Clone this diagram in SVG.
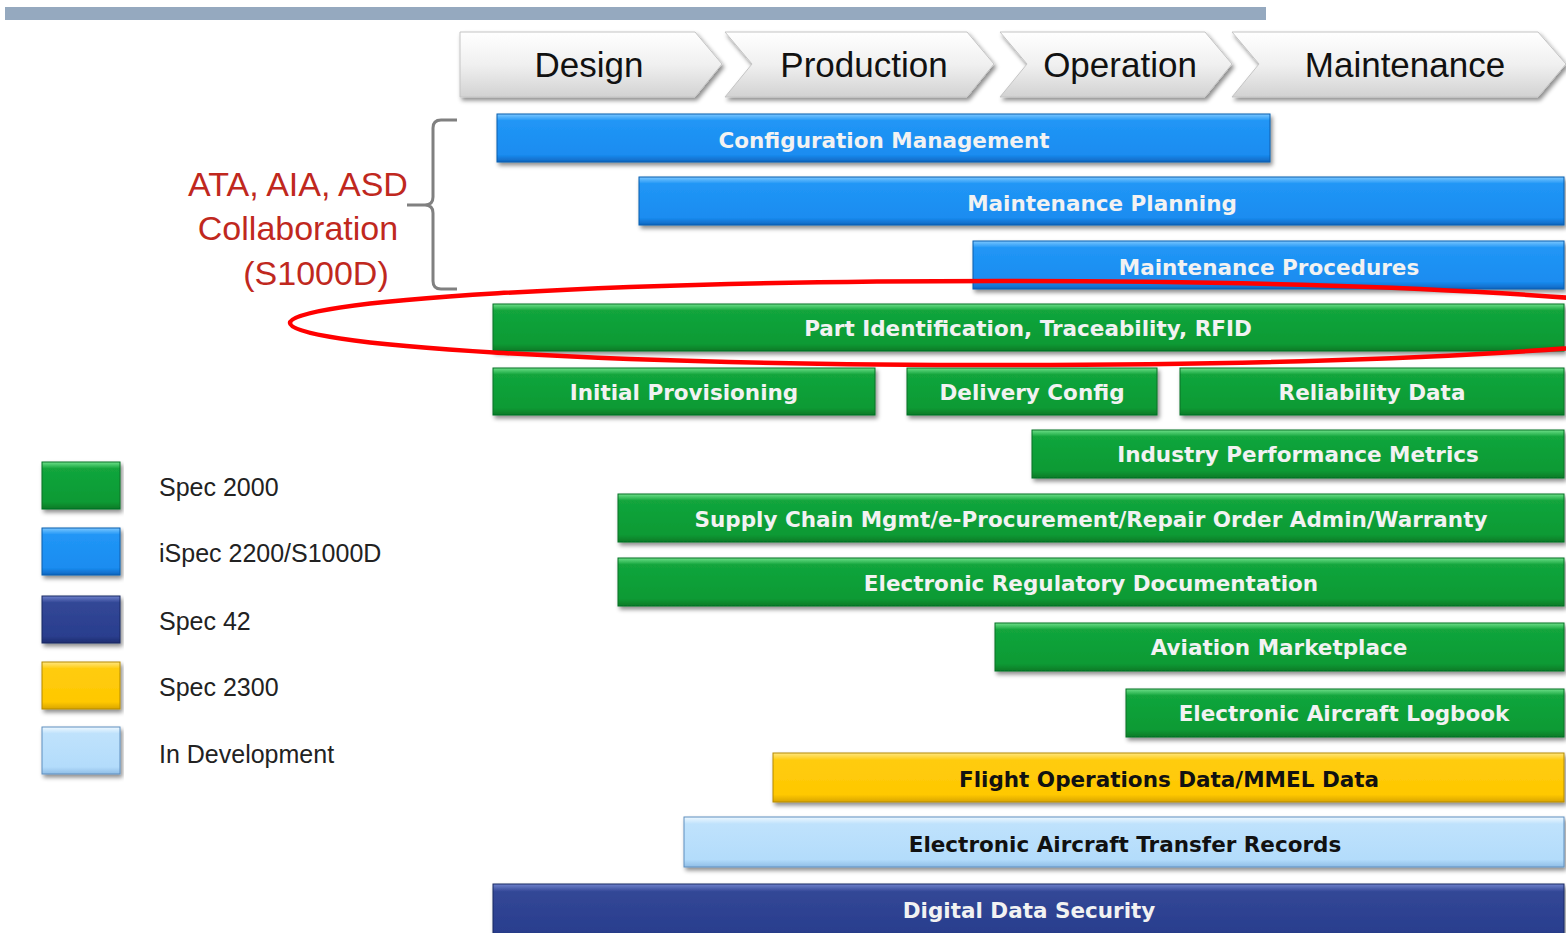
<svg xmlns="http://www.w3.org/2000/svg" width="1566" height="933" viewBox="0 0 1566 933">
<defs>
<filter id="sh" x="-5%" y="-20%" width="110%" height="160%">
<feDropShadow dx="2" dy="3" stdDeviation="2" flood-color="#000" flood-opacity="0.45"/>
</filter>
<linearGradient id="gGreen" x1="0" y1="0" x2="0" y2="1">
<stop offset="0" stop-color="#6fe08a"/><stop offset="0.14" stop-color="#12a53c"/><stop offset="0.85" stop-color="#0a9a34"/><stop offset="1" stop-color="#077a27"/>
</linearGradient>
<linearGradient id="gBlue" x1="0" y1="0" x2="0" y2="1">
<stop offset="0" stop-color="#7cc8ff"/><stop offset="0.14" stop-color="#2196f6"/><stop offset="0.85" stop-color="#1a8cf0"/><stop offset="1" stop-color="#0e66c0"/>
</linearGradient>
<linearGradient id="gDark" x1="0" y1="0" x2="0" y2="1">
<stop offset="0" stop-color="#6f82cc"/><stop offset="0.14" stop-color="#324796"/><stop offset="0.85" stop-color="#2a3e8e"/><stop offset="1" stop-color="#1e2e70"/>
</linearGradient>
<linearGradient id="gYellow" x1="0" y1="0" x2="0" y2="1">
<stop offset="0" stop-color="#ffe680"/><stop offset="0.14" stop-color="#ffcc10"/><stop offset="0.85" stop-color="#ffc800"/><stop offset="1" stop-color="#d9a500"/>
</linearGradient>
<linearGradient id="gLight" x1="0" y1="0" x2="0" y2="1">
<stop offset="0" stop-color="#eef8ff"/><stop offset="0.14" stop-color="#bfe2fc"/><stop offset="0.85" stop-color="#b3dcfb"/><stop offset="1" stop-color="#8fbde6"/>
</linearGradient>
<linearGradient id="gChev" x1="0" y1="0" x2="0" y2="1">
<stop offset="0" stop-color="#ffffff"/><stop offset="0.5" stop-color="#f0f0f0"/><stop offset="1" stop-color="#d2d2d2"/>
</linearGradient>
<style>
.green{fill:url(#gGreen);stroke:#067026;stroke-width:1;filter:url(#sh)}
.blue{fill:url(#gBlue);stroke:#0b5cae;stroke-width:1;filter:url(#sh)}
.dark{fill:url(#gDark);stroke:#1a2862;stroke-width:1;filter:url(#sh)}
.yellow{fill:url(#gYellow);stroke:#b58a00;stroke-width:1;filter:url(#sh)}
.light{fill:url(#gLight);stroke:#5f8fbf;stroke-width:1;filter:url(#sh)}
.chev{fill:url(#gChev);stroke:#c4c4c4;stroke-width:1;filter:url(#sh)}
.bt{font-family:"DejaVu Sans",Verdana,sans-serif;font-weight:bold;font-size:21.5px;fill:#f2f2f2;text-anchor:middle}
.bk{fill:#111}
.ct{font-family:"Liberation Sans",Arial,sans-serif;font-size:35px;fill:#111;text-anchor:middle}
.lt{font-family:"Liberation Sans",Arial,sans-serif;font-size:25px;fill:#222}
.rt{font-family:"Liberation Sans",Arial,sans-serif;font-size:34px;fill:#c0281e;text-anchor:middle}
</style>
</defs>
<rect x="5" y="7" width="1261" height="13" fill="#95a9bf"/>

<g id="phase-design"><polygon class="chev" points="460,32 695,32 722,64 695,97 460,97"/><text class="ct" x="589" y="77">Design</text></g>
<g id="phase-production"><polygon class="chev" points="725,32 967,32 994,64 967,97 725,97 752,64"/><text class="ct" x="864" y="77">Production</text></g>
<g id="phase-operation"><polygon class="chev" points="1000,32 1205,32 1232,64 1205,97 1000,97 1027,64"/><text class="ct" x="1120" y="77">Operation</text></g>
<g id="phase-maintenance"><polygon class="chev" points="1232,32 1538,32 1566,64 1538,97 1232,97 1259,64"/><text class="ct" x="1405" y="77">Maintenance</text></g>

<g id="collab-label">
<text class="rt" x="298" y="196">ATA, AIA, ASD</text>
<text class="rt" x="298" y="240">Collaboration</text>
<text class="rt" x="316" y="285">(S1000D)</text>
<path d="M457,120 H441 Q433,120 433,128 V197 Q433,205 425,205 H407 M425,205 Q433,205 433,213 V281 Q433,289 441,289 H457" fill="none" stroke="#808080" stroke-width="3"/>
</g>

<g id="bar-config"><rect class="blue" x="497" y="114" width="773" height="48"/><text class="bt" x="884" y="148">Configuration Management</text></g>
<g id="bar-maint-planning"><rect class="blue" x="639" y="177" width="925" height="48"/><text class="bt" x="1102" y="211">Maintenance Planning</text></g>
<g id="bar-maint-procedures"><rect class="blue" x="973" y="241" width="591" height="48"/><text class="bt" x="1269" y="275">Maintenance Procedures</text></g>
<g id="bar-part-id"><rect class="green" x="493" y="304" width="1071" height="47"/><text class="bt" x="1028" y="336">Part Identification, Traceability, RFID</text></g>
<g id="bar-initial-prov"><rect class="green" x="493" y="368" width="382" height="47"/><text class="bt" x="684" y="400">Initial Provisioning</text></g>
<g id="bar-delivery"><rect class="green" x="907" y="368" width="250" height="47"/><text class="bt" x="1032" y="400">Delivery Config</text></g>
<g id="bar-reliability"><rect class="green" x="1180" y="368" width="384" height="47"/><text class="bt" x="1372" y="400">Reliability Data</text></g>
<g id="bar-metrics"><rect class="green" x="1032" y="430" width="532" height="48"/><text class="bt" x="1298" y="462">Industry Performance Metrics</text></g>
<g id="bar-supply"><rect class="green" x="618" y="494" width="946" height="48"/><text class="bt" x="1091" y="527">Supply Chain Mgmt/e-Procurement/Repair Order Admin/Warranty</text></g>
<g id="bar-regulatory"><rect class="green" x="618" y="558" width="946" height="48"/><text class="bt" x="1091" y="591">Electronic Regulatory Documentation</text></g>
<g id="bar-marketplace"><rect class="green" x="995" y="623" width="569" height="48"/><text class="bt" x="1279" y="655">Aviation Marketplace</text></g>
<g id="bar-logbook"><rect class="green" x="1126" y="689" width="438" height="48"/><text class="bt" x="1344" y="721">Electronic Aircraft Logbook</text></g>
<g id="bar-flightops"><rect class="yellow" x="773" y="753" width="791" height="49"/><text class="bt bk" x="1169" y="787">Flight Operations Data/MMEL Data</text></g>
<g id="bar-transfer"><rect class="light" x="684" y="817" width="880" height="50"/><text class="bt bk" x="1125" y="852">Electronic Aircraft Transfer Records</text></g>
<g id="bar-security"><rect class="dark" x="493" y="884" width="1071" height="55"/><text class="bt" x="1029" y="918">Digital Data Security</text></g>

<g id="legend-spec2000"><rect class="green" x="42" y="462" width="78" height="47"/><text class="lt" x="159" y="496">Spec 2000</text></g>
<g id="legend-ispec"><rect class="blue" x="42" y="528" width="78" height="47"/><text class="lt" x="159" y="562">iSpec 2200/S1000D</text></g>
<g id="legend-spec42"><rect class="dark" x="42" y="596" width="78" height="47"/><text class="lt" x="159" y="630">Spec 42</text></g>
<g id="legend-spec2300"><rect class="yellow" x="42" y="662" width="78" height="47"/><text class="lt" x="159" y="696">Spec 2300</text></g>
<g id="legend-indev"><rect class="light" x="42" y="727" width="78" height="47"/><text class="lt" x="159" y="763">In Development</text></g>

<g id="highlight">
<ellipse cx="1000" cy="323" rx="710" ry="42" fill="none" stroke="#ff0000" stroke-width="4.5"/>
</g>
</svg>
